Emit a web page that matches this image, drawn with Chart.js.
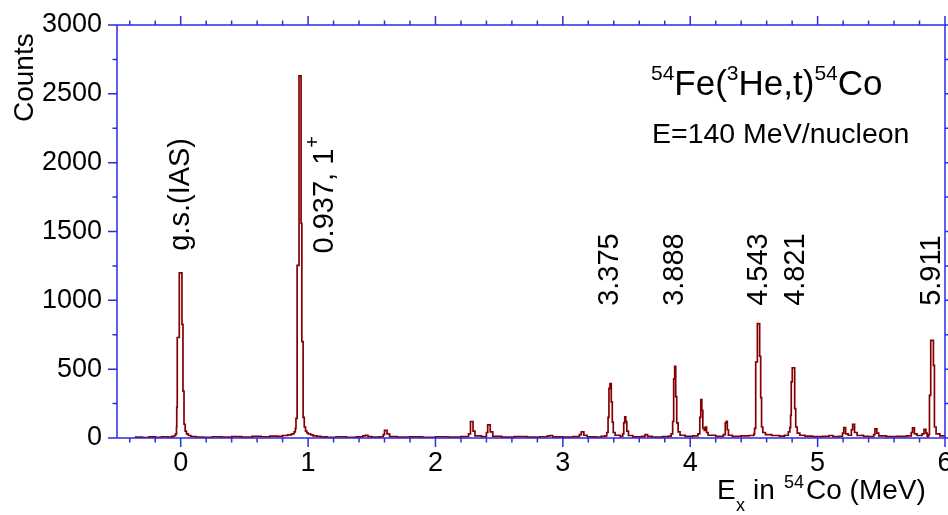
<!DOCTYPE html>
<html>
<head>
<meta charset="utf-8">
<title>54Fe(3He,t)54Co spectrum</title>
<script src="https://cdn.jsdelivr.net/npm/chart.js@4.4.1/dist/chart.umd.min.js"></script>
<style>
  html, body { margin: 0; padding: 0; background: #fff; }
  #wrap { width: 948px; height: 515px; position: relative; }
</style>
</head>
<body>
<div id="wrap"><canvas id="spectrumChart"></canvas></div>
<script>
// Histogram bins: left edge of each bin (MeV) and the counts held until the next edge
const binStart = [
  -0.36, -0.30, -0.25, -0.20, -0.15, -0.10, -0.07, -0.05, -0.04, -0.033,
  -0.031, -0.027, -0.011, 0.010, 0.018, 0.026, 0.035, 0.045, 0.06, 0.08,
  0.12, 0.18, 0.25, 0.32, 0.40, 0.48, 0.56, 0.63, 0.70, 0.76,
  0.80, 0.84, 0.87, 0.89, 0.90, 0.905, 0.914, 0.929, 0.945, 0.951,
  0.961, 0.97, 0.98, 0.99, 1.00, 1.02, 1.04, 1.07, 1.10, 1.15,
  1.22, 1.30, 1.38, 1.43, 1.45, 1.47, 1.50, 1.56, 1.59, 1.60,
  1.62, 1.64, 1.70, 1.80, 1.90, 2.00, 2.10, 2.20, 2.26, 2.275,
  2.295, 2.31, 2.36, 2.40, 2.41, 2.43, 2.45, 2.52, 2.62, 2.72,
  2.82, 2.88, 2.90, 2.92, 3.00, 3.08, 3.13, 3.145, 3.165, 3.19,
  3.26, 3.30, 3.33, 3.345, 3.355, 3.362, 3.370, 3.380, 3.388, 3.396,
  3.41, 3.45, 3.47, 3.478, 3.486, 3.494, 3.502, 3.515, 3.55, 3.62,
  3.645, 3.665, 3.70, 3.78, 3.83, 3.85, 3.862, 3.870, 3.878, 3.886,
  3.894, 3.905, 3.92, 3.96,
  4.02, 4.06, 4.075, 4.083, 4.091, 4.099, 4.11, 4.118, 4.128, 4.14,
  4.20, 4.26, 4.275, 4.283, 4.291, 4.30, 4.33, 4.40, 4.46, 4.50,
  4.505, 4.514, 4.527, 4.545, 4.553, 4.560, 4.57, 4.59, 4.64, 4.70,
  4.74, 4.77, 4.782, 4.788, 4.793, 4.801, 4.820, 4.828, 4.84, 4.86,
  4.90, 4.96,
  5.04, 5.09, 5.12, 5.17, 5.195, 5.205, 5.22, 5.24, 5.265, 5.275,
  5.29, 5.31, 5.345, 5.36, 5.40, 5.44, 5.45, 5.465, 5.48, 5.54,
  5.62, 5.70, 5.735, 5.745, 5.76, 5.78, 5.82, 5.835, 5.85, 5.86,
  5.87, 5.878, 5.888, 5.909, 5.917, 5.93, 5.96, 6.00
];
const binCounts = [
  6, 3, 8, 5, 9, 6, 12, 18, 30, 80,
  223, 730, 1200, 826, 340, 100, 50, 30, 18, 11,
  7, 4, 9, 6, 10, 7, 12, 9, 14, 12,
  18, 22, 30, 45, 70, 142, 1254, 2630, 1560, 700,
  150, 80, 50, 38, 30, 22, 16, 12, 8, 5,
  9, 4, 8, 15, 20, 10, 6, 9, 25, 55,
  30, 10, 6, 8, 5, 9, 6, 10, 30, 120,
  50, 15, 10, 40, 95, 45, 12, 7, 10, 6,
  9, 15, 18, 8, 6, 10, 25, 45, 20, 8,
  6, 12, 15, 40, 150, 360, 395, 262, 116, 40,
  20, 12, 30, 110, 153, 120, 50, 18, 8, 12,
  25, 12, 7, 10, 14, 30, 120, 430, 521, 300,
  110, 45, 20, 12,
  15, 30, 150, 279, 200, 70, 55, 80, 40, 20,
  12, 25, 110, 121, 60, 20, 12, 15, 18, 30,
  70, 552, 831, 594, 294, 80, 40, 25, 18, 14,
  20, 45, 75, 165, 407, 509, 213, 80, 35, 20,
  14, 10,
  12, 18, 10, 12, 35, 75, 30, 20, 60, 100,
  40, 18, 20, 12, 10, 25, 66, 35, 15, 10,
  12, 15, 40, 73, 30, 18, 30, 63, 35, 10,
  25, 310, 709, 528, 80, 30, 15, 8
];

const xTickValues = [0, 1, 2, 3, 4, 5, 6];
const yTickValues = [0, 500, 1000, 1500, 2000, 2500, 3000];

// Level annotations: text, superscript, energy of the text column, count where the text starts
const levelLabels = ['g.s.(IAS)', '0.937, 1', '3.375', '3.888', '4.543', '4.821', '5.911'];
const levelSups = ['', '+', '', '', '', '', ''];
const levelLabelE = [0.0, 1.13, 3.37, 3.88, 4.54, 4.83, 5.90];
const levelLabelCounts = [1360, 1340, 960, 960, 960, 960, 960];

const FONT = '"Liberation Sans", Arial, sans-serif';
const AXIS_BLUE = '#2b2be6';
const SPECTRUM_RED = '#840000';

// Blue box frame with outward major/minor ticks on all four sides
const frameAxes = {
    id: 'frameAxes',
    afterDatasetsDraw(chart) {
        const { ctx, chartArea: a, scales: { x, y } } = chart;
        ctx.save();
        ctx.strokeStyle = AXIS_BLUE;
        ctx.lineWidth = 1.5;
        ctx.beginPath();
        ctx.rect(a.left, a.top, a.right - a.left, a.bottom - a.top);
        for (let i = -2; i <= 30; i++) {
            const px = x.getPixelForValue(i / 5);
            const len = i % 5 === 0 ? 9 : 4.5;
            ctx.moveTo(px, a.bottom); ctx.lineTo(px, a.bottom + len);
            ctx.moveTo(px, a.top); ctx.lineTo(px, a.top - len);
        }
        for (let v = 0; v <= 3000; v += 250) {
            const py = y.getPixelForValue(v);
            const len = v % 500 === 0 ? 9 : 4.5;
            ctx.moveTo(a.left, py); ctx.lineTo(a.left - len, py);
            ctx.moveTo(a.right, py); ctx.lineTo(a.right + len, py);
        }
        ctx.stroke();
        ctx.restore();
    }
};

// Titles, axis names and the rotated level labels
const chartTexts = {
    id: 'chartTexts',
    afterDraw(chart) {
        const { ctx, scales: { x, y } } = chart;
        ctx.save();
        ctx.fillStyle = '#000';
        ctx.textAlign = 'left';
        ctx.textBaseline = 'alphabetic';

        // reaction title with superscripts
        const titleParts = [['54', true], ['Fe(', false], ['3', true], ['He,t)', false], ['54', true], ['Co', false]];
        let cx = 651;
        titleParts.forEach(([txt, sup]) => {
            ctx.font = (sup ? 21 : 35) + 'px ' + FONT;
            ctx.fillText(txt, cx, sup ? 80 : 95);
            cx += ctx.measureText(txt).width;
        });
        ctx.font = '28.5px ' + FONT;
        ctx.fillText('E=140 MeV/nucleon', 652, 143);

        // x axis name
        ctx.font = '28px ' + FONT;
        ctx.fillText('E', 717, 499);
        ctx.fillText('in', 753, 499);
        ctx.fillText('Co (MeV)', 806, 499);
        ctx.font = '18px ' + FONT;
        ctx.fillText('x', 736, 511);
        ctx.fillText('54', 784, 488);

        // y axis name
        ctx.save();
        ctx.translate(33, 122);
        ctx.rotate(-Math.PI / 2);
        ctx.font = '28px ' + FONT;
        ctx.fillText('Counts', 0, 0);
        ctx.restore();

        // level labels, reading upwards
        levelLabels.forEach((txt, i) => {
            ctx.save();
            ctx.translate(x.getPixelForValue(levelLabelE[i]), y.getPixelForValue(levelLabelCounts[i]));
            ctx.rotate(-Math.PI / 2);
            ctx.textBaseline = 'middle';
            ctx.font = '29px ' + FONT;
            ctx.fillText(txt, 0, 0);
            if (levelSups[i]) {
                const w = ctx.measureText(txt).width;
                ctx.font = '20px ' + FONT;
                ctx.fillText(levelSups[i], w + 1, -11);
            }
            ctx.restore();
        });
        ctx.restore();
    }
};

new Chart(document.getElementById('spectrumChart'), {
    type: 'line',
    data: {
        datasets: [{
            data: binStart.map((e, i) => ({ x: e, y: binCounts[i] })),
            // 'before': each count is held from its bin edge to the next one
            stepped: 'before',
            borderColor: SPECTRUM_RED,
            borderWidth: 1.7,
            pointRadius: 0,
            fill: false
        }]
    },
    options: {
        responsive: true,
        maintainAspectRatio: false,
        animation: false,
        layout: { padding: { top: 25, right: 3, left: 0, bottom: 0 } },
        plugins: { legend: { display: false }, tooltip: { enabled: false } },
        scales: {
            x: {
                type: 'linear',
                min: -0.5,
                max: 6,
                afterBuildTicks: s => { s.ticks = xTickValues.map(v => ({ value: v })); },
                afterFit: s => { s.height = 77; s.paddingLeft = 0; s.paddingRight = 0; },
                grid: { display: false, drawTicks: false },
                border: { display: false },
                ticks: {
                    padding: 9,
                    color: '#000',
                    font: { family: FONT, size: 27 },
                    callback: v => String(v)
                }
            },
            y: {
                min: 0,
                max: 3000,
                afterBuildTicks: s => { s.ticks = yTickValues.map(v => ({ value: v })); },
                afterFit: s => { s.width = 117; s.paddingTop = 0; s.paddingBottom = 0; },
                grid: { display: false, drawTicks: false },
                border: { display: false },
                ticks: {
                    padding: 15,
                    color: '#000',
                    font: { family: FONT, size: 27 },
                    callback: v => String(v)
                }
            }
        }
    },
    plugins: [frameAxes, chartTexts]
});
</script>
</body>
</html>
